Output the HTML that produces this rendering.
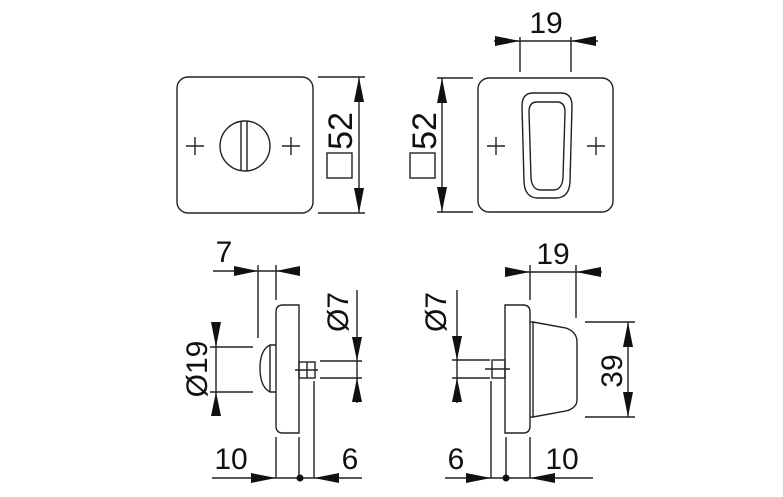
<!DOCTYPE html>
<html><head><meta charset="utf-8"><style>
html,body{margin:0;padding:0;background:#fff;}
svg{display:block;}
text{font-family:"Liberation Sans",Arial,sans-serif;fill:#111;}
</style></head><body>
<svg width="783" height="497" viewBox="0 0 783 497" xmlns="http://www.w3.org/2000/svg">
<g stroke="#222" stroke-width="1.4" fill="none">
<rect x="177" y="77" width="136" height="136" rx="11"/>
<circle cx="245" cy="146" r="25"/>
<line x1="241" y1="121" x2="241" y2="171"/>
<line x1="247" y1="121" x2="247" y2="171"/>
<path d="M186,146h18M195,137v18M282,146h18M291,137v18"/>
<path d="M318,77h47M318,213h47M359,77v136"/>
<rect x="327" y="153" width="25" height="25"/>
<rect x="478" y="78" width="135" height="134" rx="11"/>
<path d="M533,93 L561,93 Q572,93 572,106 L570,182 Q569,198 556,198 L538,198 Q525,198 524,182 L522,106 Q522,93 533,93 Z"/>
<path d="M537,102 L557,102 Q565,102 565,112 L563,178 Q562,190 553,190 L541,190 Q532,190 531,178 L529,112 Q529,102 537,102 Z"/>
<path d="M487,146h18M496,137v18M587,146h18M596,137v18"/>
<path d="M437,78h36M437,212h36M442,78v134"/>
<rect x="410" y="153" width="25" height="25"/>
<path d="M520,37v35M571,37v35M494,41h104"/>
<path d="M283,305 H299 V433 H283 Q276,433 276,426 V312 Q276,305 283,305 Z"/>
<path d="M276,345 H270 Q260,350 260,368 Q260,387 270,392 H276"/>
<line x1="270" y1="345" x2="270" y2="392"/>
<rect x="299" y="362" width="16" height="16"/>
<path d="M295,370h23M307,362v16"/>
<path d="M213,271h87M258,265v73M276,265v35"/>
<path d="M210,347h43M210,392h43M216,322v93"/>
<path d="M320,361h42M320,378h42M357,290v113"/>
<path d="M212,478h150M276,437v41M299,437v41M314,381v97"/>
<path d="M505,305 H523 Q530,305 530,312 V426 Q530,433 523,433 H505 Z"/>
<path d="M533,322 L566,328 Q577,332 577,342 V400 Q577,408 566,411 L533,417 Z"/>
<line x1="530" y1="322" x2="533" y2="322"/><line x1="530" y1="417" x2="533" y2="417"/>
<rect x="492" y="360" width="13" height="18"/>
<path d="M485,369h25"/>
<path d="M505,272h97M530,265v35M576,265v53"/>
<path d="M585,322h50M585,417h50M628,322v95"/>
<path d="M452,360h38M452,378h38M457,290v113"/>
<path d="M445,478h148M491,381v97M506,437v41M530,437v41"/>
</g>
<g fill="#111">
<polygon points="359,77 354,102 364,102"/><polygon points="359,213 354,188 364,188"/>
<polygon points="442,78 437,103 447,103"/><polygon points="442,212 437,187 447,187"/>
<polygon points="520,41 495,36 495,46"/><polygon points="571,41 596,36 596,46"/>
<polygon points="258,271 234,266 234,276"/><polygon points="276,271 300,266 300,276"/>
<polygon points="216,347 211,322 221,322"/><polygon points="216,392 211,416 221,416"/>
<polygon points="357,361 352,337 362,337"/><polygon points="357,378 352,402 362,402"/>
<polygon points="276,478 251,473 251,483"/><polygon points="314,478 339,473 339,483"/>
<circle cx="300" cy="478" r="3.5"/>
<polygon points="530,272 505,267 505,277"/><polygon points="576,272 601,267 601,277"/>
<polygon points="628,322 623,347 633,347"/><polygon points="628,417 623,392 633,392"/>
<polygon points="457,360 452,336 462,336"/><polygon points="457,378 452,402 462,402"/>
<polygon points="491,478 466,473 466,483"/><polygon points="530,478 555,473 555,483"/>
<circle cx="506" cy="478" r="3.5"/>
</g>
<g font-size="34">
<text transform="translate(352,131) rotate(-90)" text-anchor="middle">52</text>
<text transform="translate(436,131) rotate(-90)" text-anchor="middle">52</text>
</g>
<g font-size="30">
<text x="546" y="33" text-anchor="middle">19</text>
<text x="224" y="262" text-anchor="middle">7</text>
<text x="553" y="264" text-anchor="middle">19</text>
<text x="231" y="469" text-anchor="middle">10</text>
<text x="350" y="469" text-anchor="middle">6</text>
<text x="456" y="469" text-anchor="middle">6</text>
<text x="562" y="469" text-anchor="middle">10</text>
<text transform="translate(207,369) rotate(-90)" text-anchor="middle">Ø19</text>
<text transform="translate(348,312) rotate(-90)" text-anchor="middle">Ø7</text>
<text transform="translate(446,312) rotate(-90)" text-anchor="middle">Ø7</text>
<text transform="translate(622,371) rotate(-90)" text-anchor="middle">39</text>
</g>
</svg>
</body></html>
